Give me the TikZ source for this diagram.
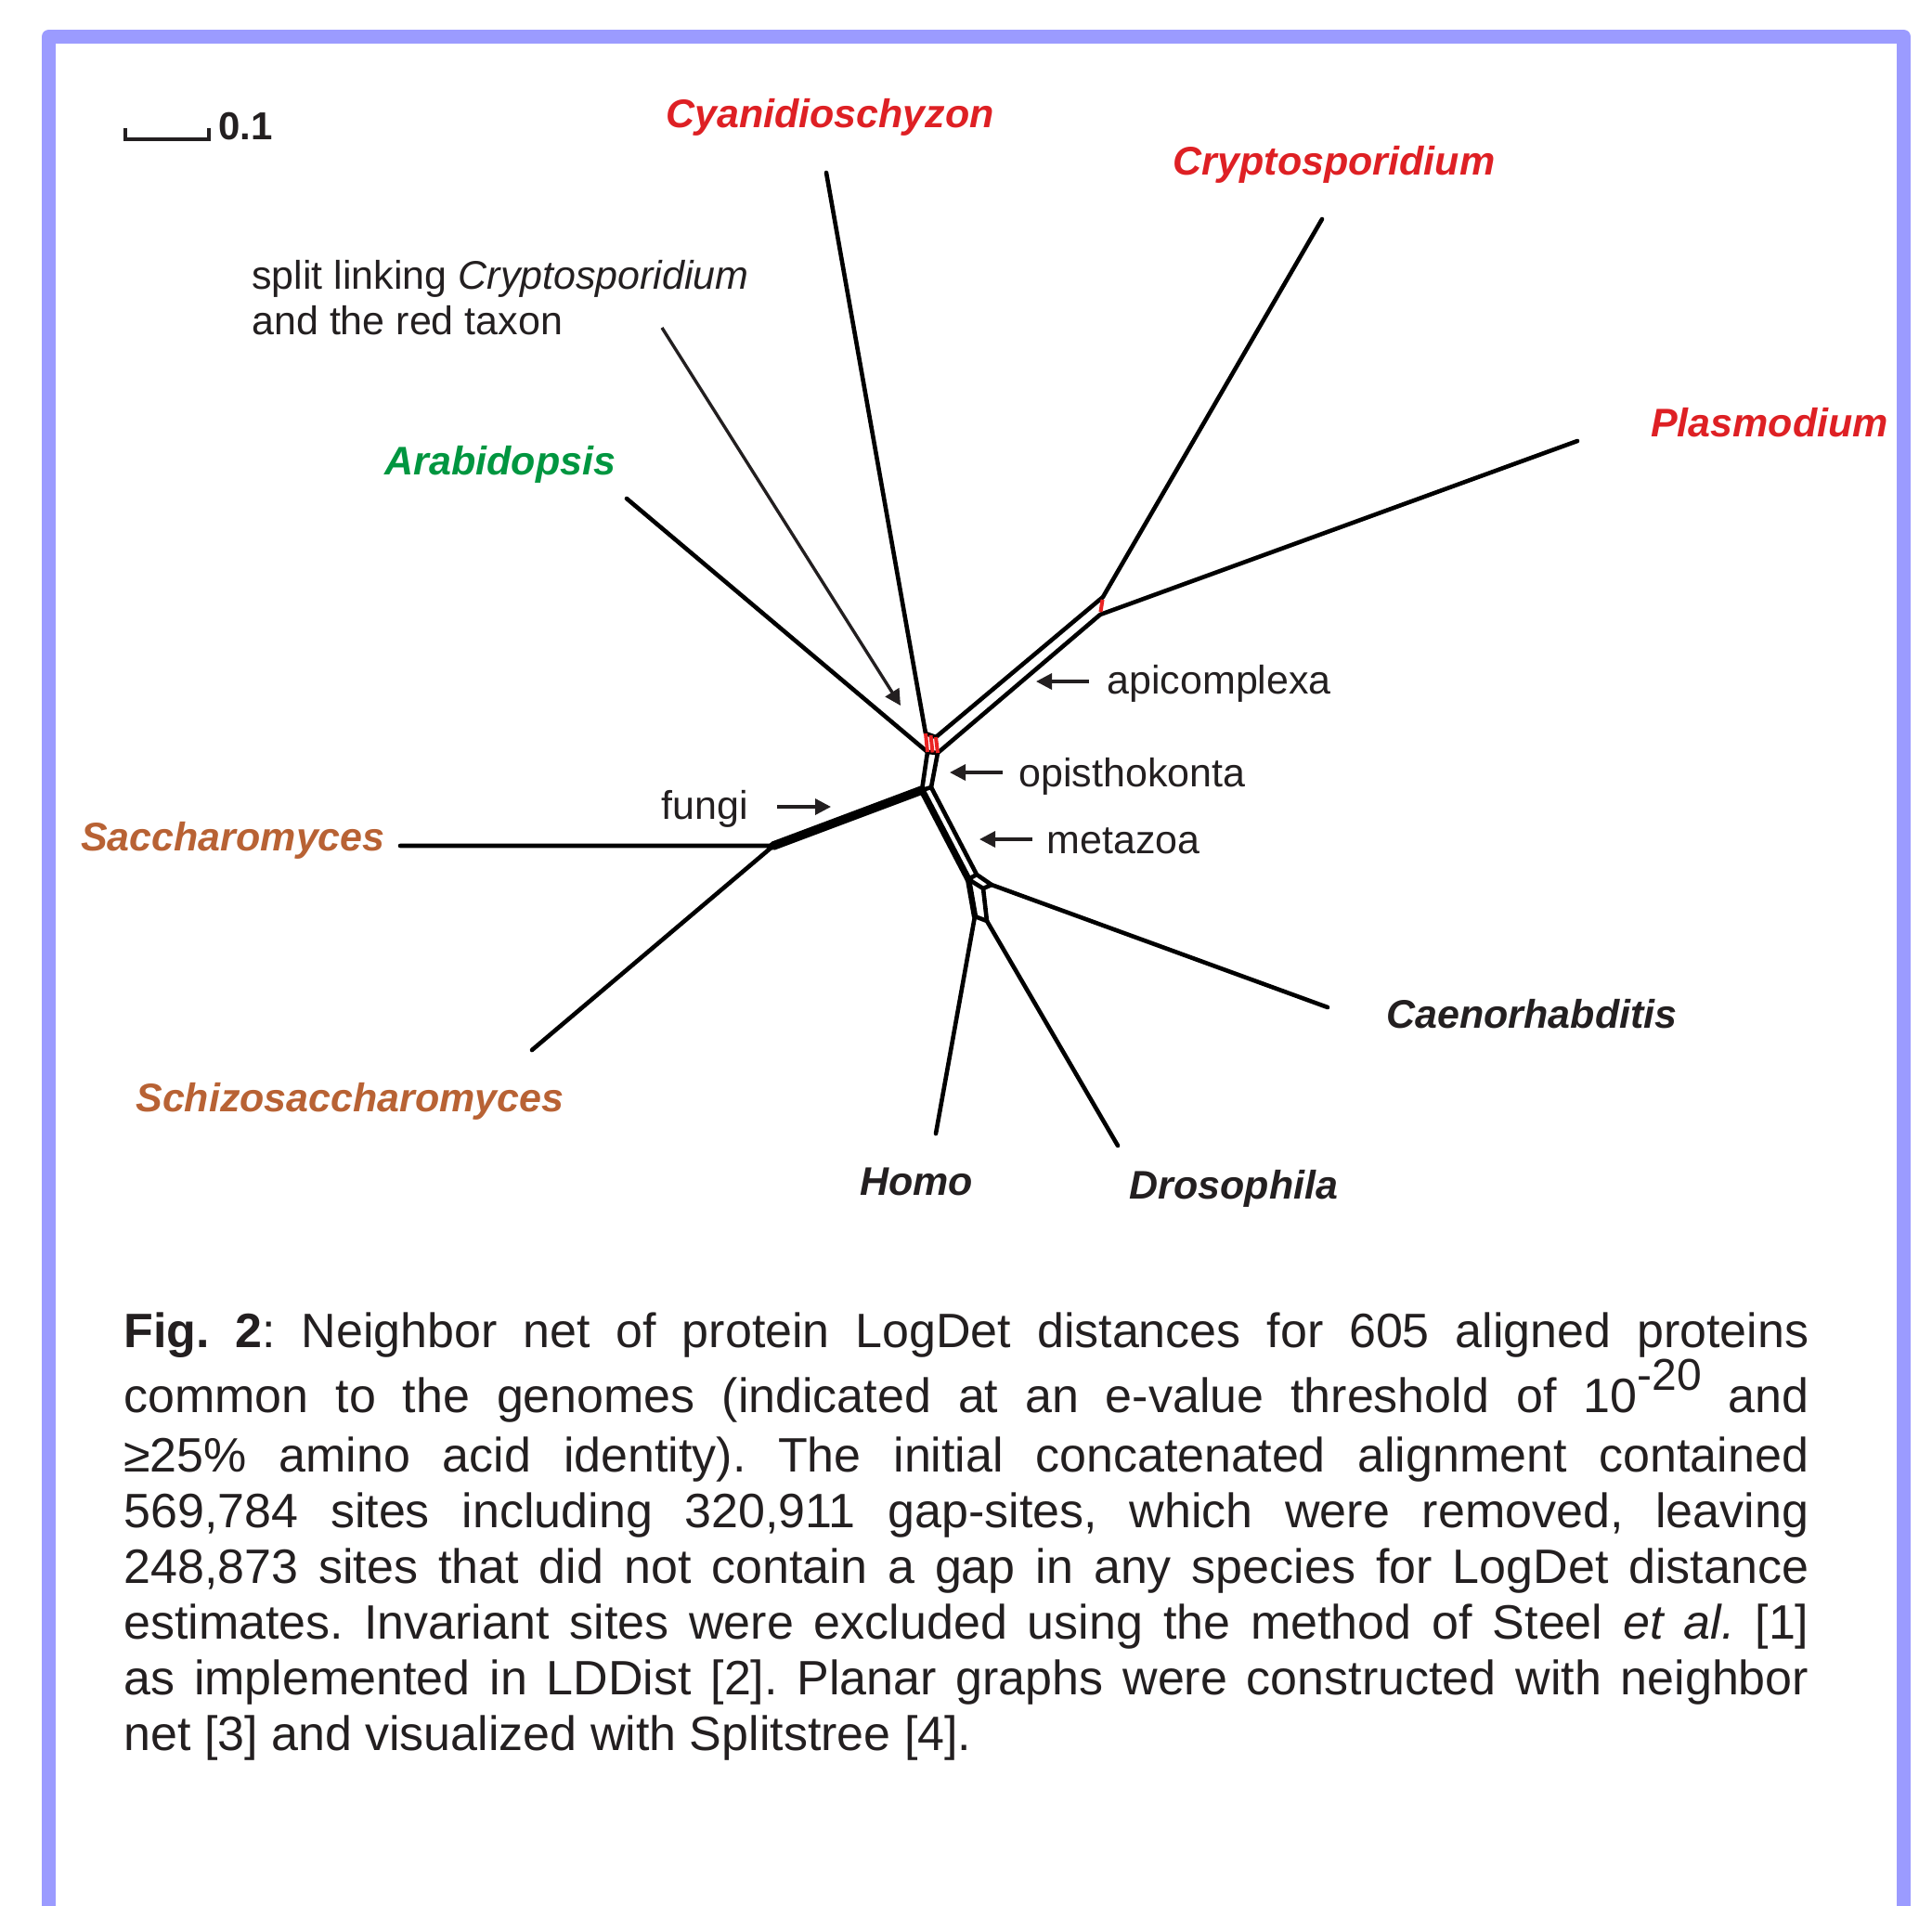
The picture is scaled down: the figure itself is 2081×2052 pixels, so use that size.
\documentclass[tikz,border=0pt]{standalone}
\usepackage{fontspec}
\setmainfont{Liberation Sans}
\usetikzlibrary{arrows.meta,calc}
\definecolor{framecol}{RGB}{155,155,255}
\definecolor{taxred}{RGB}{222,32,36}
\definecolor{taxgreen}{RGB}{0,150,64}
\definecolor{taxbrown}{RGB}{184,98,52}
\definecolor{inkdark}{RGB}{35,31,32}
\definecolor{splitred}{RGB}{235,35,35}
\tikzset{
  br/.style={line width=2.3pt, line cap=round, line join=round, draw=black},
  thickbr/.style={line width=4.8pt, line cap=round, line join=round, draw=black},
  redsplit/.style={line width=2pt, draw=splitred},
  taxon/.style={font=\fontsize{21.5}{25}\selectfont\bfseries\itshape, inner sep=0pt, anchor=base},
  plainlbl/.style={font=\fontsize{21.5}{25}\selectfont, text=inkdark, inner sep=0pt, anchor=base west},
  lblarrow/.style={draw=inkdark, line width=1.7pt, -{Triangle[length=8.5pt,width=8.5pt]}},
}
\begin{document}
\begin{tikzpicture}[x=0.5pt,y=-0.5pt]
\useasboundingbox (0,0) rectangle (2081,2052);
% frame
\draw[framecol, line width=7.5pt, line join=round] (52.5,2200) -- (52.5,39.5) -- (2050.5,39.5) -- (2050.5,2200);

% scale bar
\coordinate (sb1) at (135,138);
\coordinate (sb2) at (135,150);
\coordinate (sb3) at (225,150);
\coordinate (sb4) at (225,138);
\draw[inkdark, line width=2pt] (sb1) -- (sb2) -- (sb3) -- (sb4);
\node[font=\fontsize{21}{25}\selectfont\bfseries, text=inkdark, inner sep=0pt, anchor=base west] (scale) at (235,150) {0.1};

% network coordinates
\coordinate (cyT) at (890,186);
\coordinate (a1) at (997,790);
\coordinate (a2) at (1008,794);
\coordinate (b1) at (999,810);
\coordinate (b2) at (1010,811);
\coordinate (am1) at (1002.5,792);
\coordinate (bm1) at (1004.5,810.5);
\coordinate (arT) at (675,537);
\coordinate (apU) at (1188,643);
\coordinate (apL) at (1185,662);
\coordinate (crT) at (1424,236);
\coordinate (plT) at (1699,475);
\coordinate (c1) at (993,851);
\coordinate (c2) at (1003,848);
\coordinate (fJ) at (833,911);
\coordinate (saT) at (431,911);
\coordinate (scT) at (573,1131);
\coordinate (m1) at (1043,947);
\coordinate (m2) at (1052,942);
\coordinate (m3) at (1068,953);
\coordinate (m4) at (1059,957);
\coordinate (h1) at (1050,987);
\coordinate (d1) at (1063,992);
\coordinate (caT) at (1430,1085);
\coordinate (hoT) at (1008,1221);
\coordinate (drT) at (1204,1234);

% branches
\draw[br] (cyT) -- (a1) -- (a2) -- (apU) -- (crT);
\draw[br] (arT) -- (b1) -- (b2) -- (apL) -- (plT);
\draw[br] (b1) -- (c1) -- (c2) -- (b2);
\draw[thickbr] (c1) -- (fJ);
\draw[br] (saT) -- (fJ) -- (scT);
\draw[line width=3.6pt, line join=round, line cap=round] (c1) -- (m1);
\draw[br] (c2) -- (m2);
\draw[br] (m1) -- (m2) -- (m3) -- (m4) -- cycle;
\draw[line width=3.2pt, line cap=round] (m1) -- (h1);
\draw[br] (m4) -- (d1);
\draw[br] (h1) -- (d1);
\draw[br] (m3) -- (caT);
\draw[br] (h1) -- (hoT);
\draw[br] (d1) -- (drT);
% red splits
\draw[redsplit] (a1) -- (b1);
\draw[redsplit] (am1) -- (bm1);
\draw[redsplit] (a2) -- (b2);
\draw[redsplit] ($(apU)!0.15!(apL)$) -- ($(apU)!0.85!(apL)$);

% taxon labels
\node[taxon, text=taxred] (cyan) at (894,137) {Cyanidioschyzon};
\node[taxon, text=taxred] (cryp) at (1437,188) {Cryptosporidium};
\node[taxon, text=taxred] (plas) at (1906,470) {Plasmodium};
\node[taxon, text=taxgreen] (arab) at (539,511) {Arabidopsis};
\node[taxon, text=taxbrown] (sacc) at (251,916) {Saccharomyces};
\node[taxon, text=taxbrown] (schi) at (377,1197) {Schizosaccharomyces};
\node[taxon, text=inkdark] (caen) at (1650,1107) {Caenorhabditis};
\node[taxon, text=inkdark] (homo) at (987,1287) {Homo};
\node[taxon, text=inkdark] (dros) at (1329,1291) {Drosophila};

% annotations
\node[plainlbl] (split1) at (271,311) {split linking \textit{Cryptosporidium}};
\node[plainlbl] (split2) at (271,360) {and the red taxon};
\node[plainlbl] (apic) at (1192,747) {apicomplexa};
\node[plainlbl] (opis) at (1097,847) {opisthokonta};
\node[plainlbl] (meta) at (1127,919) {metazoa};
\node[plainlbl, anchor=base east] (fung) at (806,882) {fungi};

\coordinate (spA) at (713,353);
\coordinate (spB) at (970,760);
\draw[lblarrow] (spA) -- (spB);
\coordinate (apA) at (1173,734);
\coordinate (apB) at (1116,734);
\draw[lblarrow] (apA) -- (apB);
\coordinate (opA) at (1080,832);
\coordinate (opB) at (1023,832);
\draw[lblarrow] (opA) -- (opB);
\coordinate (meA) at (1112,904);
\coordinate (meB) at (1055,904);
\draw[lblarrow] (meA) -- (meB);
\coordinate (fuA) at (837,869);
\coordinate (fuB) at (895,869);
\draw[lblarrow] (fuA) -- (fuB);

% caption
\node[anchor=north west, inner sep=0pt, text width=907.5pt, align=justify, text=inkdark,
      font=\fontsize{26}{30}\selectfont] (caption) at (133,1413)
{\frenchspacing\spaceskip=7.2pt plus 30pt minus 2pt\hyphenpenalty=10000\tolerance=10000\relax
\textbf{Fig. 2}: Neighbor net of protein LogDet distances for 605 aligned proteins\linebreak
common to the genomes (indicated at an e-value threshold of 10\raisebox{12pt}{\fontsize{24}{24}\selectfont -20} and\vadjust{\kern2pt}\linebreak
≥25\% amino acid identity). The initial concatenated alignment contained\linebreak
569,784 sites including 320,911 gap-sites, which were removed, leaving\linebreak
248,873 sites that did not contain a gap in any species for LogDet distance\linebreak
estimates. Invariant sites were excluded using the method of Steel \textit{et al.} [1]\linebreak
as implemented in LDDist [2]. Planar graphs were constructed with neighbor\linebreak
net [3] and visualized with Splitstree [4].};
\end{tikzpicture}
\end{document}
